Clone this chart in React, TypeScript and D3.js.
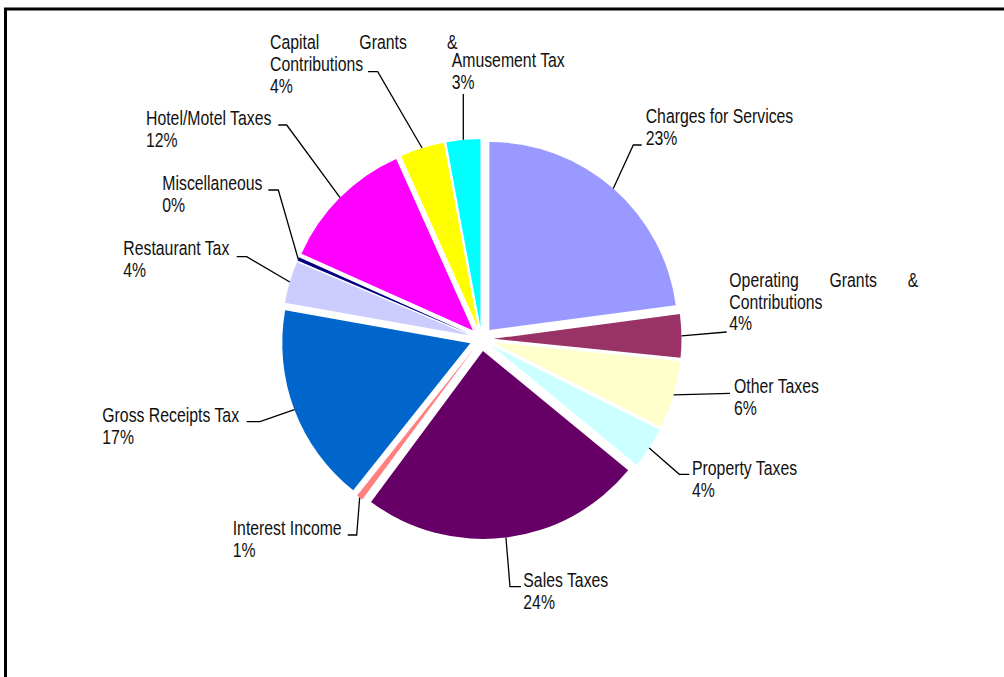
import React from "react";
import * as d3 from "d3";

const categories = [
  "Charges for Services",
  "Operating Grants & Contributions",
  "Other Taxes",
  "Property Taxes",
  "Sales Taxes",
  "Interest Income",
  "Gross Receipts Tax",
  "Restaurant Tax",
  "Miscellaneous",
  "Hotel/Motel Taxes",
  "Capital Grants & Contributions",
  "Amusement Tax",
];
const values = [22.9, 3.7, 5.8, 3.55, 24.2, 0.55, 17.1, 3.6, 0.3, 11.6, 3.8, 2.9];
const colors = [
  "#9999FF", "#993366", "#FFFFCC", "#CCFFFF", "#660066", "#FF8080",
  "#0066CC", "#CCCCFF", "#000080", "#FF00FF", "#FFFF00", "#00FFFF",
];
// label text split into lines (first line justified when justifyWidth > 0)
const labelLines = [
  ["Charges for Services"],
  ["Operating Grants &", "Contributions"],
  ["Other Taxes"],
  ["Property Taxes"],
  ["Sales Taxes"],
  ["Interest Income"],
  ["Gross Receipts Tax"],
  ["Restaurant Tax"],
  ["Miscellaneous"],
  ["Hotel/Motel Taxes"],
  ["Capital Grants &", "Contributions"],
  ["Amusement Tax"],
];

// layout (label anchors and leader line geometry)
const labelPos: [number, number][] = [
  [645.7, 123.3], [729.3, 286.7], [734, 393], [692, 475], [523.3, 586.7], [232.7, 535],
  [102.3, 422.3], [123.3, 255], [162.3, 190], [146, 125], [270, 49.3], [451.7, 66.7],
];
const justifyWidth = [0, 189, 0, 0, 0, 0, 0, 0, 0, 0, 187.5, 0];
const leaderBend: ([number, number] | null)[] = [
  [633.3, 145], null, null, [679.3, 474.3], [510, 586.7], [356.7, 535],
  [260, 421.7], [246.7, 256.7], [278.3, 190], [286.7, 125], [377.7, 71.7], null,
];
const leaderEnd: [number | null, number][] = [
  [641.7, 145], [726.7, 332], [730, 393.3], [689.3, 474.3], [521, 586.7], [347.7, 535],
  [246.7, 421.7], [236.7, 256.7], [268.3, 190], [278.3, 125], [368, 71.7], [null, 94],
];

const W = 1004;
const H = 677;
const CX = 481.5;
const CY = 339;
const R = 188;
const EXPLODE = 12;
const FONT_SIZE = 19.3;
const SX = 0.82;
const LINE_H = 21.8;
const FONT = "'Liberation Sans', Arial, sans-serif";

let ctx: CanvasRenderingContext2D | null = null;
function measure(t: string): number {
  if (!ctx) {
    const c = document.createElement("canvas");
    ctx = c.getContext("2d");
  }
  if (!ctx) return t.length * 8;
  ctx.font = `${FONT_SIZE}px 'Liberation Sans'`;
  return ctx.measureText(t).width * SX;
}

export default function App() {
  const total = d3.sum(values);
  const pie = d3.pie<number>().sort(null).value((d) => d);
  const arcs = pie(values);
  const arcGen = d3.arc<d3.PieArcDatum<number>>().innerRadius(0).outerRadius(R);

  const textEl = (s: string, x: number, y: number, key: string, anchor = "start") => (
    <text
      key={key}
      transform={`translate(${x},${y}) scale(${SX},1)`}
      fontFamily={FONT}
      fontSize={FONT_SIZE}
      fill="#111"
      textAnchor={anchor}
    >
      {s}
    </text>
  );

  return (
    <svg
      width={W}
      height={H}
      style={{ position: "absolute", left: 0, top: 0, background: "#fff" }}
    >
      <rect x={5.5} y={9} width={1200} height={900} fill="#fff" stroke="#000" strokeWidth={3} />
      {arcs.map((a, i) => {
        const mid = (a.startAngle + a.endAngle) / 2;
        const ox = EXPLODE * Math.sin(mid);
        const oy = -EXPLODE * Math.cos(mid);
        return (
          <path
            key={categories[i]}
            d={arcGen(a) || ""}
            transform={`translate(${CX + ox},${CY + oy})`}
            fill={colors[i]}
          />
        );
      })}
      {arcs.map((a, i) => {
        const mid = (a.startAngle + a.endAngle) / 2;
        const rr = R + EXPLODE;
        const sx = CX + rr * Math.sin(mid);
        const sy = CY - rr * Math.cos(mid);
        const pts: [number, number][] = [[sx, sy]];
        const b = leaderBend[i];
        if (b) pts.push(b);
        const e = leaderEnd[i];
        pts.push([e[0] === null ? sx : e[0], e[1]]);
        const line = d3.line()(pts) || "";
        return <path key={"l" + i} d={line} fill="none" stroke="#000" strokeWidth={1.3} />;
      })}
      {arcs.map((a, i) => {
        const [x, y] = labelPos[i];
        const lines = labelLines[i];
        const pct = Math.round((values[i] / total) * 100) + "%";
        const els: React.ReactNode[] = [];
        lines.forEach((ln, j) => {
          const yy = y + j * LINE_H;
          if (j === 0 && justifyWidth[i] > 0) {
            const words = ln.split(" ");
            const widths = words.map(measure);
            const gap = (justifyWidth[i] - d3.sum(widths)) / (words.length - 1);
            let cx = x;
            words.forEach((w, k) => {
              els.push(textEl(w, cx, yy, `t${i}-${j}-${k}`));
              cx += widths[k] + gap;
            });
          } else {
            els.push(textEl(ln, x, yy, `t${i}-${j}`));
          }
        });
        els.push(textEl(pct, x, y + lines.length * LINE_H, `p${i}`));
        return <g key={"g" + i}>{els}</g>;
      })}
    </svg>
  );
}
